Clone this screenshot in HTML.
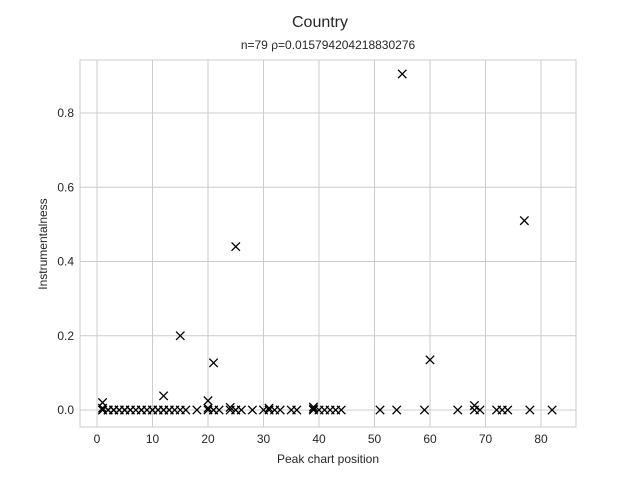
<!DOCTYPE html>
<html><head><meta charset="utf-8"><style>
body{margin:0;background:#fff;font-family:"Liberation Sans",sans-serif}
svg text{font-family:"Liberation Sans",sans-serif;fill:#262626}
</style></head><body>
<svg id="c" width="640" height="480"></svg>
<script>
const xs=[1,1,1,1,2,2,3,3,4,4,5,5,6,7,8,9,10,11,11,12,12,12,13,13,15,15,16,18,20,20,20,21,21,21,22,24,24,25,25,25,26,28,30,31,31,32,33,35,36,39,39,39,40,41,42,43,44,51,54,55,59,60,65,68,68,69,72,73,74,77,78,82,6,8,10,14,3,5,2];
const ys=[0.02,0.005,0,0,0,0,0,0,0,0,0,0,0,0,0,0,0,0,0,0.038,0,0,0,0,0.2,0,0,0,0.025,0.005,0,0.127,0,0,0,0.007,0,0.44,0,0,0,0,0,0.005,0,0,0,0,0,0.008,0.003,0,0,0,0,0,0,0,0,0.905,0,0.135,0,0.012,0,0,0,0,0,0.51,0,0,0,0,0,0,0,0,0];
const xTicks=[0,10,20,30,40,50,60,70,80];
const yTicks=[0,0.2,0.4,0.6,0.8];
const L=80,R=576,T=60,B=427;
const X=v=>97+(v-0)*(541-97)/80;
const Y=v=>410-v*371.25;
const svg=document.getElementById('c');const ns='http://www.w3.org/2000/svg';
function mk(t,a,p){const e=document.createElementNS(ns,t);for(const k in a)e.setAttribute(k,a[k]);(p||svg).appendChild(e);return e;}
xTicks.forEach(t=>{const g=mk('line',{x1:X(t),x2:X(t),y1:T,y2:B,stroke:'#ccc','stroke-width':1});


const tx=mk('text',{x:X(t),y:B+16,'text-anchor':'middle','font-size':12});tx.textContent=t;

});
yTicks.forEach(t=>{const g=mk('line',{x1:L,x2:R,y1:Y(t),y2:Y(t),stroke:'#ccc','stroke-width':1});


const tx=mk('text',{x:L-6,y:Y(t)+4,'text-anchor':'end','font-size':12});tx.textContent=t.toFixed(1);

});
const fr=mk('rect',{x:L,y:T,width:R-L,height:B-T,fill:'none',stroke:'#ccc'});


xs.forEach((x,i)=>{const cx=X(x),cy=Y(ys[i]);
const p=mk('path',{d:`M${cx-4.2},${cy-4.2}L${cx+4.2},${cy+4.2}M${cx-4.2},${cy+4.2}L${cx+4.2},${cy-4.2}`,stroke:'#000','stroke-width':1.3,fill:'none'});

});
</script>
<svg width="640" height="480" style="position:absolute;left:0;top:0">
<text x="320" y="27" text-anchor="middle" font-size="16">Country</text>
<text x="328" y="49" text-anchor="middle" font-size="12">n=79 ρ=0.015794204218830276</text>
<text x="328" y="463" text-anchor="middle" font-size="12">Peak chart position</text>
<text x="47" y="244" text-anchor="middle" font-size="12" transform="rotate(-90 47 244)">Instrumentalness</text>
</svg>
</body></html>
